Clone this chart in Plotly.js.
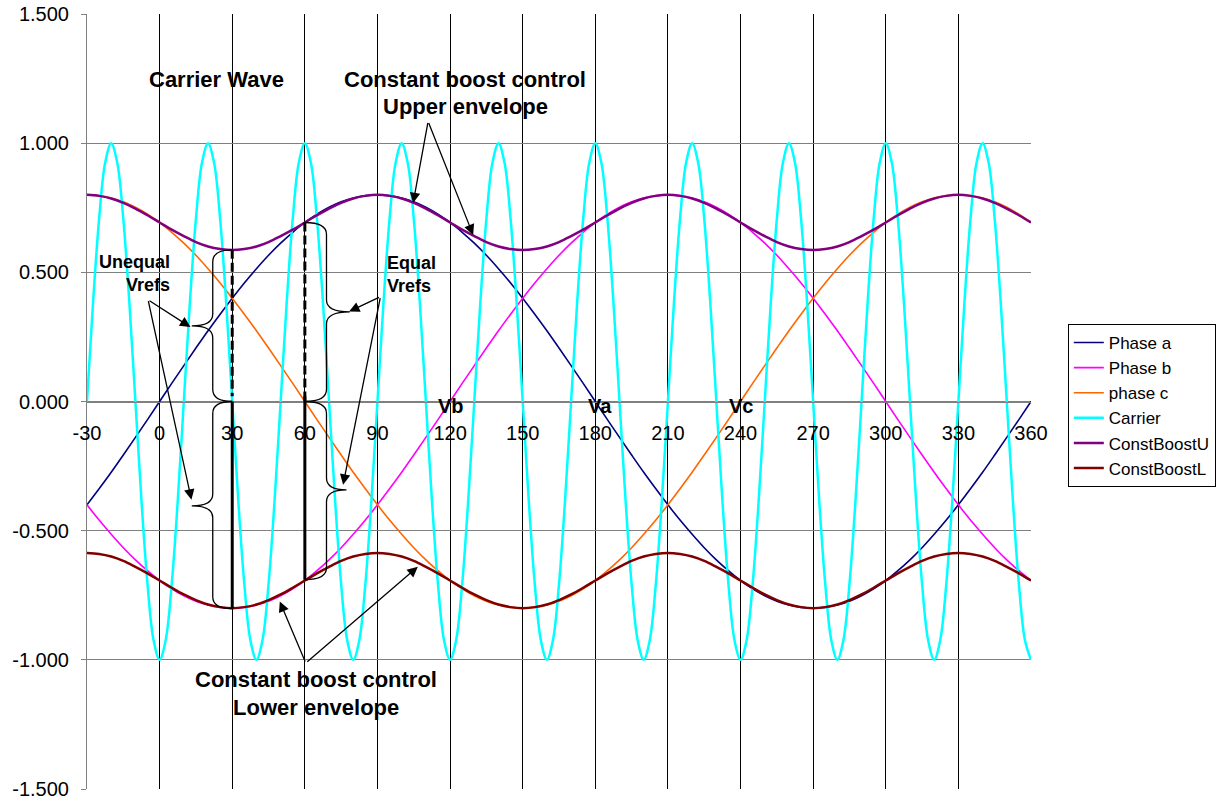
<!DOCTYPE html>
<html>
<head>
<meta charset="utf-8">
<script src="https://cdn.plot.ly/plotly-3.0.1.min.js"></script>
<style>
html,body{margin:0;padding:0;background:#fff;}
#chart{width:1221px;height:801px;}
</style>
</head>
<body>
<div id="chart"></div>
<script>
// ---- data ----
var xDeg = [-30,-25,-20,-15,-10,-5,0,5,10,15,20,25,30,35,40,45,50,55,60,65,70,75,80,85,90,95,100,105,110,115,120,125,130,135,140,145,150,155,160,165,170,175,180,185,190,195,200,205,210,215,220,225,230,235,240,245,250,255,260,265,270,275,280,285,290,295,300,305,310,315,320,325,330,335,340,345,350,355,360];

var phaseA = [-0.400,-0.338,-0.274,-0.207,-0.139,-0.070,
  0,0.070,0.139,0.207,0.274,0.338,0.400,0.459,0.514,0.566,0.613,0.655,0.693,0.725,0.752,0.773,0.788,0.797,0.800,
  0.797,0.788,0.773,0.752,0.725,0.693,0.655,0.613,0.566,0.514,0.459,0.400,0.338,0.274,0.207,0.139,0.070,0,
  -0.070,-0.139,-0.207,-0.274,-0.338,-0.400,-0.459,-0.514,-0.566,-0.613,-0.655,-0.693,-0.725,-0.752,-0.773,-0.788,-0.797,-0.800,
  -0.797,-0.788,-0.773,-0.752,-0.725,-0.693,-0.655,-0.613,-0.566,-0.514,-0.459,-0.400,-0.338,-0.274,-0.207,-0.139,-0.070,0];

var phaseB = [-0.400,-0.459,-0.514,-0.566,-0.613,-0.655,-0.693,-0.725,-0.752,-0.773,-0.788,-0.797,-0.800,-0.797,-0.788,-0.773,-0.752,-0.725,-0.693,-0.655,-0.613,-0.566,-0.514,-0.459,-0.400,-0.338,-0.274,-0.207,-0.139,-0.070,
  0,0.070,0.139,0.207,0.274,0.338,0.400,0.459,0.514,0.566,0.613,0.655,0.693,0.725,0.752,0.773,0.788,0.797,0.800,
  0.797,0.788,0.773,0.752,0.725,0.693,0.655,0.613,0.566,0.514,0.459,0.400,0.338,0.274,0.207,0.139,0.070,0,
  -0.070,-0.139,-0.207,-0.274,-0.338,-0.400,-0.459,-0.514,-0.566,-0.613,-0.655,-0.693];

var phaseC = [0.800,0.797,0.788,0.773,0.752,0.725,0.693,0.655,0.613,0.566,0.514,0.459,0.400,0.338,0.274,0.207,0.139,0.070,0,
  -0.070,-0.139,-0.207,-0.274,-0.338,-0.400,-0.459,-0.514,-0.566,-0.613,-0.655,-0.693,-0.725,-0.752,-0.773,-0.788,-0.797,-0.800,
  -0.797,-0.788,-0.773,-0.752,-0.725,-0.693,-0.655,-0.613,-0.566,-0.514,-0.459,-0.400,-0.338,-0.274,-0.207,-0.139,-0.070,
  0,0.070,0.139,0.207,0.274,0.338,0.400,0.459,0.514,0.566,0.613,0.655,0.693,0.725,0.752,0.773,0.788,0.797,0.800,
  0.797,0.788,0.773,0.752,0.725,0.693];

var constBoostU = [0.800,0.796,0.786,0.769,0.747,0.721,0.693,0.665,0.640,0.617,0.600,0.590,0.586,0.590,0.600,0.617,0.640,0.665,0.693,0.721,0.747,0.769,0.786,0.796,
  0.800,0.796,0.786,0.769,0.747,0.721,0.693,0.665,0.640,0.617,0.600,0.590,0.586,0.590,0.600,0.617,0.640,0.665,0.693,0.721,0.747,0.769,0.786,0.796,
  0.800,0.796,0.786,0.769,0.747,0.721,0.693,0.665,0.640,0.617,0.600,0.590,0.586,0.590,0.600,0.617,0.640,0.665,0.693,0.721,0.747,0.769,0.786,0.796,
  0.800,0.796,0.786,0.769,0.747,0.721,0.693];

var constBoostL = [-0.586,-0.590,-0.600,-0.617,-0.640,-0.665,-0.693,-0.721,-0.747,-0.769,-0.786,-0.796,-0.800,-0.796,-0.786,-0.769,-0.747,-0.721,-0.693,-0.665,-0.640,-0.617,-0.600,-0.590,
  -0.586,-0.590,-0.600,-0.617,-0.640,-0.665,-0.693,-0.721,-0.747,-0.769,-0.786,-0.796,-0.800,-0.796,-0.786,-0.769,-0.747,-0.721,-0.693,-0.665,-0.640,-0.617,-0.600,-0.590,
  -0.586,-0.590,-0.600,-0.617,-0.640,-0.665,-0.693,-0.721,-0.747,-0.769,-0.786,-0.796,-0.800,-0.796,-0.786,-0.769,-0.747,-0.721,-0.693,-0.665,-0.640,-0.617,-0.600,-0.590,
  -0.586,-0.590,-0.600,-0.617,-0.640,-0.665,-0.693];

var xCarrier = [-30,-27.5,-25,-22.5,-20,-17.5,-15,-12.5,-10,-7.5,-5,-2.5,0,2.5,5,7.5,10,12.5,15,17.5,20,22.5,25,27.5,30,32.5,35,37.5,40,42.5,45,47.5,50,52.5,55,57.5,60,62.5,65,67.5,70,72.5,75,77.5,80,82.5,85,87.5,90,92.5,95,97.5,100,102.5,105,107.5,110,112.5,115,117.5,120,122.5,125,127.5,130,132.5,135,137.5,140,142.5,145,147.5,150,152.5,155,157.5,160,162.5,165,167.5,170,172.5,175,177.5,180,182.5,185,187.5,190,192.5,195,197.5,200,202.5,205,207.5,210,212.5,215,217.5,220,222.5,225,227.5,230,232.5,235,237.5,240,242.5,245,247.5,250,252.5,255,257.5,260,262.5,265,267.5,270,272.5,275,277.5,280,282.5,285,287.5,290,292.5,295,297.5,300,302.5,305,307.5,310,312.5,315,317.5,320,322.5,325,327.5,330,332.5,335,337.5,340,342.5,345,347.5,350,352.5,355,357.5,360];

var carrier = [0,0.383,0.707,0.924,1,0.924,0.707,0.383,0,-0.383,-0.707,-0.924,-1,-0.924,-0.707,-0.383,
  0,0.383,0.707,0.924,1,0.924,0.707,0.383,0,-0.383,-0.707,-0.924,-1,-0.924,-0.707,-0.383,
  0,0.383,0.707,0.924,1,0.924,0.707,0.383,0,-0.383,-0.707,-0.924,-1,-0.924,-0.707,-0.383,
  0,0.383,0.707,0.924,1,0.924,0.707,0.383,0,-0.383,-0.707,-0.924,-1,-0.924,-0.707,-0.383,
  0,0.383,0.707,0.924,1,0.924,0.707,0.383,0,-0.383,-0.707,-0.924,-1,-0.924,-0.707,-0.383,
  0,0.383,0.707,0.924,1,0.924,0.707,0.383,0,-0.383,-0.707,-0.924,-1,-0.924,-0.707,-0.383,
  0,0.383,0.707,0.924,1,0.924,0.707,0.383,0,-0.383,-0.707,-0.924,-1,-0.924,-0.707,-0.383,
  0,0.383,0.707,0.924,1,0.924,0.707,0.383,0,-0.383,-0.707,-0.924,-1,-0.924,-0.707,-0.383,
  0,0.383,0.707,0.924,1,0.924,0.707,0.383,0,-0.383,-0.707,-0.924,-1,-0.924,-0.707,-0.383,
  0,0.383,0.707,0.924,1,0.924,0.707,0.383,0,-0.383,-0.707,-0.924,-1];

var seriesNames = ["Phase a","Phase b","phase c","Carrier","ConstBoostU","ConstBoostL"];

var xTickVals = [-30,0,30,60,90,120,150,180,210,240,270,300,330,360];
var xTickText = ["-30","0","30","60","90","120","150","180","210","240","270","300","330","360"];
var yTickVals = [-1.5,-1,-0.5,0,0.5,1,1.5];
var yTickText = ["-1.500","-1.000","-0.500","0.000","0.500","1.000","1.500"];

// ---- drawing ----
var FONT = 'Arial, "Liberation Sans", sans-serif';
var colors = ["#000080","#FF00FF","#FF6600","#00FFFF","#800080","#800000"];
var widths = [1.6,1.6,1.6,2.5,2.5,2.5];
var xs = [xDeg,xDeg,xDeg,xCarrier,xDeg,xDeg];
var ys = [phaseA,phaseB,phaseC,carrier,constBoostU,constBoostL];

var traces = seriesNames.map(function(n,i){
  return {x: xs[i], y: ys[i], name: n, type: 'scatter', mode: 'lines',
    line: {color: colors[i], width: widths[i], shape: 'spline', smoothing: 1},
    hoverinfo: 'skip'};
});

function txt(text, x, y, size, xanchor){
  return {text: '<b>'+text+'</b>', x: x, y: y, xref: 'x', yref: 'y', showarrow: false,
    xanchor: xanchor || 'center', yanchor: 'middle', font: {family: FONT, size: size, color: '#000'}};
}
function arrow(tx, ty, hx, hy){
  return {text: '', x: hx, y: hy, ax: tx, ay: ty, xref: 'x', yref: 'y', axref: 'x', ayref: 'y',
    showarrow: true, arrowhead: 2, arrowsize: 1.6, arrowwidth: 1.3, arrowcolor: '#000', standoff: 0};
}

var annotations = [
  txt('Carrier Wave', 23.4, 1.247, 22),
  txt('Constant boost control', 126.1, 1.247, 22),
  txt('Upper envelope', 126.4, 1.142, 22),
  txt('Constant boost control', 64.4, -1.075, 22),
  txt('Lower envelope', 64.5, -1.183, 22),
  txt('Unequal', 5.0, 0.541, 18, 'right'),
  txt('Vrefs', 5.0, 0.452, 18, 'right'),
  txt('Equal', 93.0, 0.536, 18, 'left'),
  txt('Vrefs', 93.0, 0.448, 18, 'left'),
  txt('Vb', 120.3, -0.019, 20),
  txt('Va', 181.8, -0.019, 20),
  txt('Vc', 240.1, -0.019, 20),
  arrow(-4.79, 0.394, 12.73, 0.288),
  arrow(-4.79, 0.394, 13.15, -0.380),
  arrow(91.25, 0.406, 78.28, 0.348),
  arrow(91.25, 0.406, 75.8, -0.322),
  arrow(110.93, 1.084, 104.73, 0.768),
  arrow(110.93, 1.084, 129.52, 0.645),
  arrow(60.38, -1.012, 49.64, -0.774),
  arrow(60.38, -1.012, 106.67, -0.640)
];

function brace(path){
  return {type: 'path', xref: 'x', yref: 'y', path: path, line: {color: '#000', width: 1.3}};
}
function vline(x, y0, y1, dash){
  return {type: 'line', xref: 'x', yref: 'y', x0: x, x1: x, y0: y0, y1: y1,
    line: {color: '#000', width: 3, dash: dash}};
}
var shapes = [
  brace('M 30,0.587 Q 21.95,0.587 21.95,0.541 L 21.95,0.339 Q 21.95,0.293 13.27,0.293 Q 21.95,0.293 21.95,0.247 L 21.95,0.046 Q 21.95,0 30,0'),
  brace('M 30,0 Q 21.95,0 21.95,-0.046 L 21.95,-0.358 Q 21.95,-0.404 13.27,-0.404 Q 21.95,-0.404 21.95,-0.450 L 21.95,-0.756 Q 21.95,-0.802 30,-0.802'),
  brace('M 60,0.693 Q 68.94,0.693 68.94,0.647 L 68.94,0.393 Q 68.94,0.347 78.57,0.347 Q 68.94,0.347 68.94,0.301 L 68.94,0.046 Q 68.94,0 60,0'),
  brace('M 60,0 Q 68.94,0 68.94,-0.046 L 68.94,-0.296 Q 68.94,-0.342 77.2,-0.342 Q 68.94,-0.342 68.94,-0.388 L 68.94,-0.644 Q 68.94,-0.690 60,-0.690'),
  vline(30, 0.587, 0.02, '9px,4px'),
  vline(30, 0, -0.802, 'solid'),
  vline(60, 0.693, 0.0, '9px,4px'),
  vline(60, 0.02, -0.690, 'solid')
];

var layout = {
  width: 1221, height: 801,
  margin: {l: 87, r: 190, t: 14, b: 12, autoexpand: false},
  paper_bgcolor: '#fff', plot_bgcolor: '#fff',
  font: {family: FONT, color: '#000'},
  showlegend: true,
  legend: {x: 1.039, y: 0.600, xanchor: 'left', yanchor: 'top',
    bgcolor: '#fff', bordercolor: '#000', borderwidth: 1,
    font: {family: FONT, size: 17, color: '#000'}},
  xaxis: {range: [-30, 360], tickvals: xTickVals, ticktext: xTickText,
    anchor: 'free', position: 0.5, showline: true, linecolor: '#808080', linewidth: 1,
    ticks: '', ticklabelstandoff: 13,
    showgrid: true, gridcolor: '#000', gridwidth: 1, zeroline: false,
    tickfont: {family: FONT, size: 20, color: '#000'}},
  yaxis: {range: [-1.5, 1.5], tickvals: yTickVals, ticktext: yTickText,
    showline: true, linecolor: '#808080', linewidth: 1,
    ticks: 'outside', ticklen: 5, tickcolor: '#808080', ticklabelstandoff: 8,
    showgrid: true, gridcolor: '#808080', gridwidth: 1, zeroline: false,
    tickfont: {family: FONT, size: 20, color: '#000'}},
  annotations: annotations,
  shapes: shapes
};

Plotly.newPlot('chart', traces, layout, {displayModeBar: false, staticPlot: true});
</script>
</body>
</html>
